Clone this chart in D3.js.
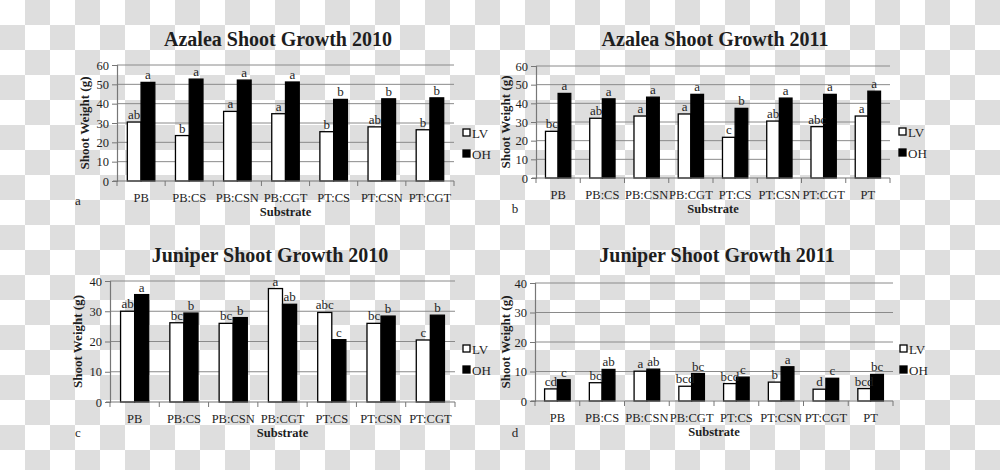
<!DOCTYPE html>
<html><head><meta charset="utf-8">
<script src="https://cdn.jsdelivr.net/npm/d3@7/dist/d3.min.js"></script>
<style>body{margin:0;background:#fff}svg{display:block}svg text{font-family:"Liberation Serif","Times New Roman",serif !important;fill:#1e1e1e}</style>
</head><body><svg id="c" width="1000" height="470"></svg>
<script>
// ---- data ----
const subs7 = ["PB","PB:CS","PB:CSN","PB:CGT","PT:CS","PT:CSN","PT:CGT"];
const subs8 = ["PB","PB:CS","PB:CSN","PB:CGT","PT:CS","PT:CSN","PT:CGT","PT"];
const seriesNames = ["LV","OH"];

const azalea2010LV = [30.5,23.5,36.0,34.8,25.5,28.0,26.5];
const azalea2010OH = [51.0,52.7,52.2,51.2,42.2,42.5,43.0];
const azalea2010LVsig = ["ab","b","a","a","b","ab","b"];
const azalea2010OHsig = ["a","a","a","a","b","b","b"];

const azalea2011LV = [25.0,32.0,33.2,34.3,21.8,30.5,27.5,33.2];
const azalea2011OH = [45.3,42.4,43.3,44.8,37.3,42.8,44.8,46.5];
const azalea2011LVsig = ["bc","ab","a","a","c","ab","abc","a"];
const azalea2011OHsig = ["a","a","a","a","b","a","a","a"];

const juniper2010LV = [30.0,26.2,26.0,37.5,29.6,26.0,20.5];
const juniper2010OH = [35.5,29.4,27.9,32.3,20.6,28.4,28.7];
const juniper2010LVsig = ["ab","bc","bc","a","abc","bc","c"];
const juniper2010OHsig = ["a","b","b","ab","c","b","b"];

const juniper2011LV = [4.1,6.2,10.1,5.0,5.9,6.4,4.0,4.2];
const juniper2011OH = [7.2,10.7,10.8,9.3,8.1,11.6,7.7,9.0];
const juniper2011LVsig = ["cd","bc","a","bcd","bcd","b","d","bcd"];
const juniper2011OHsig = ["c","ab","ab","bc","c","a","c","bc"];

const ticksAzalea = [0,10,20,30,40,50,60];
const ticksJuniper = [0,10,20,30,40];

const titles = ["Azalea Shoot Growth 2010","Azalea Shoot Growth 2011","Juniper Shoot Growth 2010","Juniper Shoot Growth 2011"];
const panelLetters = ["a","b","c","d"];
const yTitle = "Shoot Weight (g)";
const xTitle = "Substrate";

// ---- layout ----
const panels = [
 {cats:subs7, lv:azalea2010LV, oh:azalea2010OH, lvs:azalea2010LVsig, ohs:azalea2010OHsig, ticks:ticksAzalea,
  L:117,R:454,T:65,B:181, tx:278,ty:46, yl:84, lgx:463, lgy:133, px:78, py:205},
 {cats:subs8, lv:azalea2011LV, oh:azalea2011OH, lvs:azalea2011LVsig, ohs:azalea2011OHsig, ticks:ticksAzalea,
  L:536,R:890,T:66,B:178, tx:715,ty:46, yl:505, lgx:899, lgy:132, px:515, py:213},
 {cats:subs7, lv:juniper2010LV, oh:juniper2010OH, lvs:juniper2010LVsig, ohs:juniper2010OHsig, ticks:ticksJuniper,
  L:110,R:455,T:281,B:402, tx:270,ty:262, yl:77, lgx:463, lgy:349, px:78, py:437},
 {cats:subs8, lv:juniper2011LV, oh:juniper2011OH, lvs:juniper2011LVsig, ohs:juniper2011OHsig, ticks:ticksJuniper,
  L:535,R:893,T:283,B:401, tx:717,ty:262, yl:505, lgx:900, lgy:349, px:515, py:437}
];

const svg = d3.select("#c");
// checkerboard (transparent image background)
const defs = svg.append("defs");
const pat = defs.append("pattern").attr("id","chk").attr("width",50).attr("height",50).attr("patternUnits","userSpaceOnUse");
pat.append("rect").attr("width",50).attr("height",50).attr("fill","#ffffff");
pat.append("rect").attr("x",25).attr("y",0).attr("width",25).attr("height",25).attr("fill","#dedede");
pat.append("rect").attr("x",0).attr("y",25).attr("width",25).attr("height",25).attr("fill","#dedede");
svg.append("rect").attr("width",1000).attr("height",470).attr("fill","url(#chk)");

const FF = "'Liberation Serif','Times New Roman',serif";

panels.forEach((p,i)=>{
  const g = svg.append("g").attr("font-family",FF);
  const x = d3.scaleBand().domain(p.cats).range([p.L,p.R]);
  const yMax = d3.max(p.ticks);
  const y = d3.scaleLinear().domain([0,yMax]).range([p.B,p.T]);
  const bw = x.bandwidth()/3.5;

  // gridlines
  g.selectAll(".grid").data(p.ticks.filter(t=>t>0)).join("line")
    .attr("x1",p.L).attr("x2",p.R).attr("y1",d=>y(d)).attr("y2",d=>y(d))
    .attr("stroke","#8a8a8a").attr("stroke-width",1);

  // y axis
  const ya = g.append("g").attr("transform",`translate(${p.L},0)`)
    .call(d3.axisLeft(y).tickValues(p.ticks).tickSize(5).tickPadding(3));
  ya.attr("font-family",FF);
  ya.select(".domain").attr("stroke","#777").attr("stroke-width",1.2);
  ya.selectAll(".tick line").attr("stroke","#777");
  ya.selectAll("text").style("font-size","12.5px");

  // bars
  const rows = p.cats.map((c,k)=>({c, lv:p.lv[k], oh:p.oh[k], lvs:p.lvs[k], ohs:p.ohs[k]}));
  const cx = d=>x(d.c)+x.bandwidth()/2;
  g.selectAll(".lv").data(rows).join("rect")
    .attr("x",d=>cx(d)-bw).attr("y",d=>y(d.lv)).attr("width",bw).attr("height",d=>y(0)-y(d.lv))
    .attr("fill","#fff").attr("stroke","#000").attr("stroke-width",1.3);
  g.selectAll(".oh").data(rows).join("rect")
    .attr("x",d=>cx(d)).attr("y",d=>y(d.oh)).attr("width",bw).attr("height",d=>y(0)-y(d.oh))
    .attr("fill","#000").attr("stroke","#000").attr("stroke-width",1.3);

  // significance letters
  g.selectAll(".lvs").data(rows).join("text")
    .attr("x",d=>cx(d)-bw/2).attr("y",d=>y(d.lv)-3).attr("text-anchor","middle")
    .style("font-size","13px").text(d=>d.lvs);
  g.selectAll(".ohs").data(rows).join("text")
    .attr("x",d=>cx(d)+bw/2).attr("y",d=>y(d.oh)-3).attr("text-anchor","middle")
    .style("font-size","13px").text(d=>d.ohs);

  // x axis
  const xa = g.append("g").attr("transform",`translate(0,${p.B})`)
    .call(d3.axisBottom(x).tickSize(0).tickPadding(12));
  xa.attr("font-family",FF);
  xa.select(".domain").remove();
  xa.selectAll("text").style("font-size","12.5px");
  g.append("line").attr("x1",p.L-4).attr("x2",p.R).attr("y1",p.B).attr("y2",p.B).attr("stroke","#777").attr("stroke-width",1.2);
  const bounds = p.cats.map(c=>x(c)).concat([p.R]);
  g.selectAll(".xt").data(bounds).join("line")
    .attr("x1",d=>d).attr("x2",d=>d).attr("y1",p.B).attr("y2",p.B+5).attr("stroke","#777");

  // titles
  g.append("text").attr("x",p.tx).attr("y",p.ty).attr("text-anchor","middle")
    .style("font-size","20px").style("font-weight","bold").text(titles[i]);
  g.append("text").attr("transform",`translate(${p.yl},${(p.T+p.B)/2}) rotate(-90)`).attr("text-anchor","middle")
    .attr("dy","0.35em").style("font-size","13px").style("font-weight","bold").text(yTitle);
  g.append("text").attr("x",(p.L+p.R)/2).attr("y",p.B+35).attr("text-anchor","middle")
    .style("font-size","12.5px").style("font-weight","bold").text(xTitle);
  g.append("text").attr("x",p.px).attr("y",p.py).attr("text-anchor","middle")
    .style("font-size","13px").text(panelLetters[i]);

  // legend
  const lg = g.append("g");
  seriesNames.forEach((s,k)=>{
    const yy = p.lgy + k*21;
    lg.append("rect").attr("x",p.lgx).attr("y",yy-4).attr("width",7).attr("height",7)
      .attr("fill",k===0?"#fff":"#000").attr("stroke","#000").attr("stroke-width",1.3);
    lg.append("text").attr("x",p.lgx+9).attr("y",yy+5).style("font-size","13px").text(s);
  });
});
</script></body></html>
